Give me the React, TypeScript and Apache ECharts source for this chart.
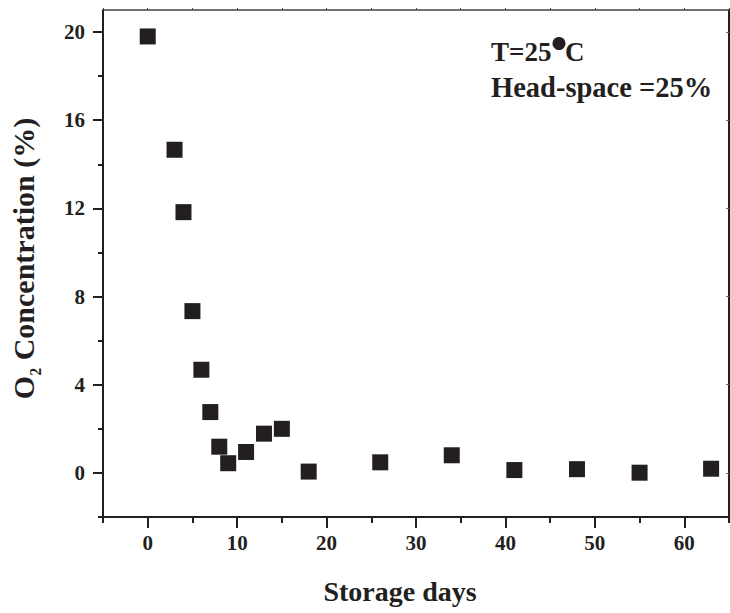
import React, { useEffect, useRef } from "react";
import * as echarts from "echarts";

const storageDays = [0, 3, 4, 5, 6, 7, 8, 9, 11, 13, 15, 18, 26, 34, 41, 48, 55, 63];
const o2Concentration = [19.8, 14.66, 11.83, 7.34, 4.68, 2.76, 1.19, 0.44, 0.95, 1.78, 2.0, 0.06, 0.48, 0.8, 0.13, 0.17, 0.01, 0.19];
const xLabelTicks = [0, 10, 20, 30, 40, 50, 60];
const xMinorTicks = [-5, 5, 15, 25, 35, 45, 55, 65];
const yLabelTicks = [0, 4, 8, 12, 16, 20];
const yMinorTicks = [-2, 2, 6, 10, 14, 18];

const FONT = "'Liberation Serif', 'Times New Roman', serif";
const INK = "#231f20";

export default function App() {
  const ref = useRef<HTMLDivElement>(null);
  useEffect(() => {
    document.body.style.margin = "0";
    if (!ref.current) return;
    const chart = echarts.init(ref.current, null, { renderer: "svg" });
    const data = storageDays.map((d, i) => [d, o2Concentration[i]]);
    const baseX = { type: "value", min: -5, max: 65, splitLine: { show: false } };
    const baseY = { type: "value", min: -2, max: 21, splitLine: { show: false } };
    chart.setOption({
      animation: false,
      backgroundColor: "#ffffff",
      grid: { left: 103, right: 1, top: 10, bottom: 96, containLabel: false },
      xAxis: [
        {
          ...baseX,
          position: "bottom",
          axisLine: { show: true, onZero: false, lineStyle: { color: INK, width: 2 } },
          axisTick: { show: true, customValues: xLabelTicks, length: 11, inside: false, lineStyle: { color: INK, width: 2 } },
          axisLabel: { show: true, customValues: xLabelTicks, margin: 15, color: INK, fontSize: 21, fontWeight: "bold", fontFamily: FONT },
          name: "Storage days",
          nameLocation: "middle",
          nameGap: 60,
          nameTextStyle: { color: INK, fontSize: 28, fontWeight: "bold", fontFamily: FONT, padding: [0, 32, 0, 0] },
        },
        {
          ...baseX,
          position: "bottom",
          axisLine: { show: false, onZero: false },
          axisTick: { show: true, customValues: xMinorTicks, length: 6, inside: false, lineStyle: { color: INK, width: 2 } },
          axisLabel: { show: false },
        },
        {
          ...baseX,
          position: "top",
          axisLine: { show: true, onZero: false, lineStyle: { color: "#444", width: 1.5 } },
          axisTick: { show: true, customValues: [...xMinorTicks, ...xLabelTicks], length: 2, inside: false, lineStyle: { color: "#444", width: 1 } },
          axisLabel: { show: false },
        },
      ],
      yAxis: [
        {
          ...baseY,
          position: "left",
          axisLine: { show: true, onZero: false, lineStyle: { color: INK, width: 2 } },
          axisTick: { show: true, customValues: yLabelTicks, length: 10, inside: false, lineStyle: { color: INK, width: 2 } },
          axisLabel: { show: true, customValues: yLabelTicks, margin: 18, color: INK, fontSize: 21, fontWeight: "bold", fontFamily: FONT },
          name: "{a|O}{b|2}{a| Concentration (%)}",
          nameLocation: "middle",
          nameRotate: 90,
          nameGap: 60,
          nameTextStyle: {
            color: INK,
            padding: [0, 0, 0, 10],
            rich: {
              a: { fontSize: 30, fontWeight: "bold", fontFamily: FONT, color: INK, lineHeight: 40 },
              b: { fontSize: 16, fontWeight: "bold", fontFamily: FONT, color: INK, lineHeight: 16, verticalAlign: "bottom" },
            },
          },
        },
        {
          ...baseY,
          position: "left",
          axisLine: { show: false, onZero: false },
          axisTick: { show: true, customValues: yMinorTicks, length: 5, inside: false, lineStyle: { color: INK, width: 2 } },
          axisLabel: { show: false },
        },
        {
          ...baseY,
          position: "right",
          axisLine: { show: true, onZero: false, lineStyle: { color: INK, width: 2 } },
          axisTick: { show: true, customValues: yLabelTicks, length: 3, inside: true, lineStyle: { color: "#666", width: 1 } },
          axisLabel: { show: false },
        },
      ],
      series: [
        {
          type: "scatter",
          xAxisIndex: 0,
          yAxisIndex: 0,
          symbol: "rect",
          symbolSize: 16,
          itemStyle: { color: INK, opacity: 1 },
          data,
        },
      ],
      graphic: [
        {
          type: "text",
          left: 491,
          top: 38,
          style: { text: "T=25", fill: INK, font: `bold 27px ${FONT}` },
        },
        {
          type: "circle",
          shape: { cx: 559, cy: 43.5, r: 6.5 },
          style: { fill: INK },
        },
        {
          type: "text",
          left: 565,
          top: 38,
          style: { text: "C", fill: INK, font: `bold 27px ${FONT}` },
        },
        {
          type: "text",
          left: 491,
          top: 73,
          style: { text: "Head-space =25%", fill: INK, font: `bold 28.5px ${FONT}` },
        },
      ],
    });
    return () => chart.dispose();
  }, []);
  return <div ref={ref} style={{ width: 730, height: 613 }} />;
}
